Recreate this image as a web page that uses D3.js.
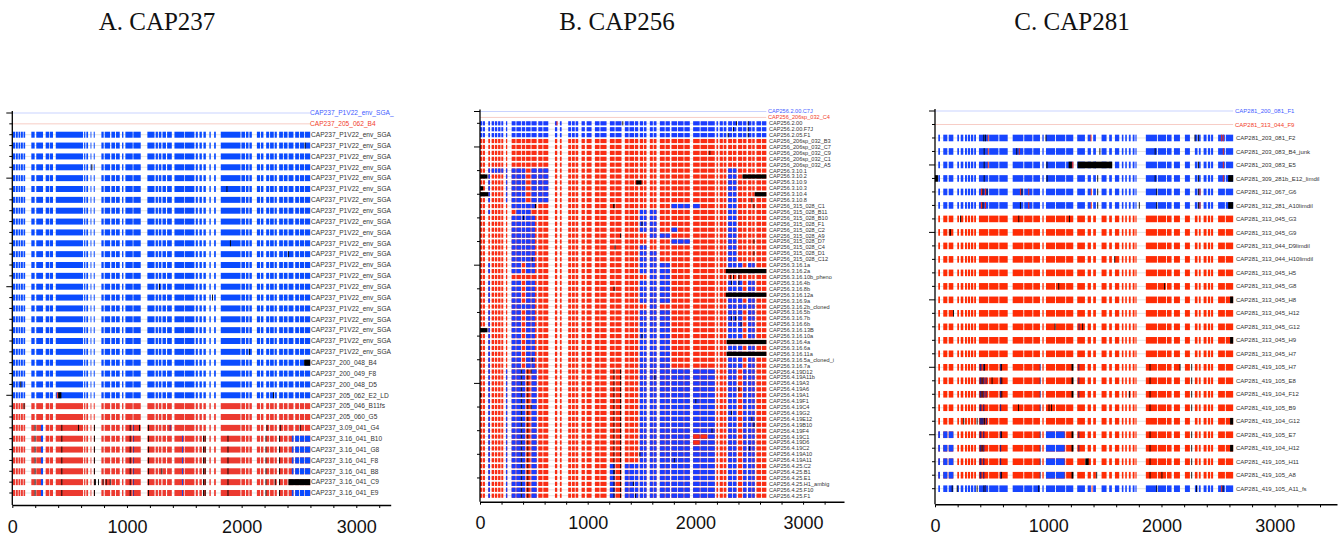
<!DOCTYPE html>
<html><head><meta charset="utf-8">
<script src="https://cdn.jsdelivr.net/npm/d3@7"></script>
<style>body{margin:0;background:#fff}svg{display:block}</style>
</head><body>
<svg id="chart" width="1343" height="540"></svg>
<script>
// ===================== DATA =====================
// ---- Panel A : CAP237 ----
const titleA = "A. CAP237";
const refNamesA = ["CAP237_P1V22_env_SGA_", "CAP237_205_062_B4"];
const namesA = [
  "CAP237_P1V22_env_SGA","CAP237_P1V22_env_SGA","CAP237_P1V22_env_SGA","CAP237_P1V22_env_SGA",
  "CAP237_P1V22_env_SGA","CAP237_P1V22_env_SGA","CAP237_P1V22_env_SGA","CAP237_P1V22_env_SGA",
  "CAP237_P1V22_env_SGA","CAP237_P1V22_env_SGA","CAP237_P1V22_env_SGA","CAP237_P1V22_env_SGA",
  "CAP237_P1V22_env_SGA","CAP237_P1V22_env_SGA","CAP237_P1V22_env_SGA","CAP237_P1V22_env_SGA",
  "CAP237_P1V22_env_SGA","CAP237_P1V22_env_SGA","CAP237_P1V22_env_SGA","CAP237_P1V22_env_SGA",
  "CAP237_P1V22_env_SGA",
  "CAP237_200_048_B4","CAP237_200_049_F8","CAP237_200_048_D5","CAP237_205_062_E2_LD",
  "CAP237_205_046_B11fs","CAP237_205_060_G5","CAP237_3.09_041_G4","CAP237_3.16_041_B10",
  "CAP237_3.16_041_G8","CAP237_3.16_041_F8","CAP237_3.16_041_B8","CAP237_3.16_041_C9",
  "CAP237_3.16_041_E9"
];
const baseA = ["B","B","B","B","B","B","B","B","B","B","B","B","B","B","B","B","B","B","B","B","B",
  "B","B","B","B","R","R","R","R","R","R","R","R","R"];
const blocksA = [
  [6,24],[30,48],[54,70],[76,92],[98,112],[166,195],[209,268],[291,320],[326,355],
  [379,617],[626,637],[646,661],[682,689],[710,719],[777,797],[806,853],[864,896],[904,937],
  [957,969],[986,1050],[1056,1120],[1178,1240],[1250,1270],[1278,1300],[1310,1340],[1350,1391],
  [1414,1500],[1506,1588],[1600,1618],[1632,1653],[1667,1688],[1719,1731],[1760,1775],
  [1818,1990],[1998,2030],[2038,2060],[2068,2089],[2133,2160],[2168,2190],[2214,2240],
  [2248,2280],[2288,2307],[2327,2360],[2368,2400],[2410,2452],[2467,2500],[2508,2545],[2552,2598]
];
const rec316A = [[250,268,"B"],[195,201,"K"],[428,434,"K"],[713,720,"K"],[1024,1031,"K"],[1053,1060,"N"],
  [1184,1191,"K"],[1480,1487,"B"],[1664,1670,"K"],[1678,1684,"K"],[1877,1884,"K"],[2208,2215,"K"],[2327,2334,"K"]];
const marksA = [
  [],[[2550,2558,"K"]],[],[[690,697,"K"]],[],[[1868,1874,"K"]],[],[],[],[],
  [[1898,1904,"K"]],[[2405,2412,"K"]],[],[],[[1280,1287,"K"]],[[1742,1750,"K"]],[],[],[],[],
  [[2064,2071,"K"]],
  [[2545,2598,"K"]],
  [],
  [[70,77,"K"]],
  [[388,400,"R"],[400,428,"K"],[2274,2281,"K"]],
  [[98,106,"K"]],
  [],
  [[250,268,"B"],[195,201,"K"],[428,434,"K"],[573,580,"K"],[713,720,"K"],[1024,1031,"K"],[1053,1060,"N"],
   [1105,1112,"K"],[1184,1191,"K"],[1373,1380,"N"],[2217,2224,"K"],[2333,2340,"K"],[2507,2514,"K"]],
  rec316A.concat([[2438,2598,"B"]]),
  rec316A.concat([[2438,2598,"B"]]),
  rec316A.concat([[2438,2598,"B"]]),
  rec316A.concat([[1300,1306,"K"],[2438,2598,"B"]]),
  rec316A.concat([[722,728,"K"],[748,754,"K"],[788,795,"K"],[815,822,"K"],[850,857,"K"],[2289,2296,"K"],[2408,2598,"K"]]),
  rec316A.concat([[2438,2598,"B"]])
];
const xTicksA = [0,1000,2000,3000];

// ---- Panel B : CAP256 ----
const titleB = "B. CAP256";
const refNamesB = ["CAP256.2.00.C7J", "CAP256_206sp_032_C4"];
const namesB = [
  "CAP256.2.00","CAP256.2.00.F7J","CAP256.2.05.F1","CAP256_206sp_032_B3","CAP256_206sp_032_C7",
  "CAP256_206sp_032_C9","CAP256_206sp_032_C1","CAP256_206sp_032_A5","CAP256.3.10.1","CAP256.3.10.2",
  "CAP256.3.10.9","CAP256.3.10.3","CAP256.3.10.4","CAP256.3.10.8","CAP256_315_028_C1",
  "CAP256_315_028_B11","CAP256_315_028_B10","CAP256_315_028_F1","CAP256_315_028_C2","CAP256_315_028_A9",
  "CAP256_315_028_D7","CAP256_315_028_C4","CAP256_315_028_D1","CAP256_315_028_C12","CAP256.3.16.1a",
  "CAP256.3.16.2a","CAP256.3.16.10b_pheno","CAP256.3.16.4b","CAP256.3.16.8b","CAP256.3.16.12a",
  "CAP256.3.16.9a","CAP256.3.16.2b_cloned","CAP256.3.16.5b","CAP256.3.16.7b","CAP256.3.16.6b",
  "CAP256.3.16.13B","CAP256.3.16.10a","CAP256.3.16.4a","CAP256.3.16.6a","CAP256.3.16.11a",
  "CAP256.3.16.5a_cloned_i","CAP256.3.16.7a","CAP256.4.19D12","CAP256.4.19A11b","CAP256.4.19A3",
  "CAP256.4.19A6","CAP256.4.19A1","CAP256.4.19F1","CAP256.4.19C4","CAP256.4.19G2",
  "CAP256.4.19E12","CAP256.4.19B10","CAP256.4.19F4","CAP256.4.19C1","CAP256.4.19D6",
  "CAP256.4.19C2","CAP256.4.19A10","CAP256.4.19A11","CAP256.4.25.C2","CAP256.4.25.B1",
  "CAP256.4.25.E1","CAP256.4.25.H1_ambig","CAP256.4.25.F10","CAP256.4.25.F1"
];
const baseB = ["B","B","B"].concat(Array(61).fill("R"));
const blocksB = [
  [0,20],[26,46],[77,93],[108,130],[138,160],[168,190],[198,216],[241,253],
  [294,330],[338,380],[388,420],[428,470],[478,526],[541,580],[588,634],[696,717],[742,758],
  [819,845],[853,880],[888,912],[943,974],[990,1036],[1067,1110],[1118,1175],[1206,1250],[1258,1314],
  [1345,1380],[1388,1430],[1438,1469],[1484,1515],[1523,1546],[1577,1605],[1613,1639],
  [1670,1715],[1723,1763],[1778,1830],[1838,1890],[1898,1948],[1979,2040],[2048,2110],[2118,2180],
  [2196,2211],[2226,2255],[2263,2288],[2304,2340],[2348,2381],[2396,2435],[2443,2474],
  [2489,2520],[2528,2551],[2567,2610],[2618,2659]
];
const p310B = [[77,93,"B"],[241,420,"B"],[478,634,"B"],[2304,2381,"B"]];
const p315B = [[294,420,"B"],[428,510,"B"],[1469,1546,"B"],[1577,1639,"B"],[2304,2381,"B"]];
const p316B = [[77,93,"B"],[294,380,"B"],[428,510,"B"],[1469,1546,"B"],[1577,1763,"B"],[2304,2435,"B"],[2489,2551,"B"]];
const p419B = [[77,93,"B"],[241,253,"B"],[294,420,"B"],[478,526,"B"],[1469,1639,"B"],[1670,1948,"B"],[1979,2180,"B"],
  [2304,2381,"B"],[2443,2551,"B"],[380,388,"K"],[440,448,"K"],[1240,1248,"K"],[1300,1306,"K"]];
const p425B = p419B.concat([[1345,1469,"B"],[1206,1250,"B"]]);
const marksB = [
  [[710,720,"R"],[1322,1330,"K"],[2377,2385,"K"],[2486,2494,"K"]],
  [[2350,2358,"K"],[2486,2494,"K"]],
  [[2300,2308,"K"],[2486,2494,"K"]],
  [],[],[[2130,2138,"K"]],[],[],
  p310B.concat([[108,216,"B"]]),
  p310B.concat([[0,70,"K"],[2437,2659,"K"]]),
  p310B.concat([[1450,1500,"K"]]),
  p310B.concat([[0,30,"K"]]),
  p310B.concat([[0,77,"K"],[2551,2659,"K"]]),
  p310B.concat([[2520,2528,"K"]]),
  [[294,510,"B"],[510,520,"K"],[1237,1250,"K"],[1778,2040,"B"],[2304,2381,"B"],[2540,2548,"K"]],
  [[77,93,"B"],[338,470,"B"],[1469,1639,"B"],[2304,2381,"B"]],
  p315B.concat([[400,408,"K"]]),
  p315B.concat([[1500,1508,"K"]]),
  p315B.concat([[1778,1830,"B"]]),
  [[294,510,"B"],[1577,1763,"B"],[2304,2381,"B"],[1300,1308,"K"]],
  [[294,510,"B"],[1778,1948,"B"],[2304,2381,"B"],[2540,2548,"K"]],
  [[294,510,"B"],[1469,1546,"B"],[2304,2381,"B"],[1250,1258,"K"]],
  p315B.concat([[2540,2548,"K"]]),
  p315B.concat([[480,488,"K"]]),
  p316B,
  p316B.concat([[2282,2659,"K"]]),
  [[1577,1763,"B"],[2320,2328,"K"],[2350,2358,"K"],[2400,2408,"K"]],
  p316B.concat([[2330,2338,"K"],[2400,2408,"K"]]),
  p316B.concat([[1240,1250,"K"]]),
  p316B.concat([[2282,2659,"K"]]),
  p316B,
  [[294,510,"B"],[1577,1639,"B"],[2304,2551,"B"]],
  p316B,
  p316B.concat([[2330,2338,"K"],[2370,2378,"K"]]),
  p316B.concat([[2420,2428,"K"]]),
  p316B.concat([[0,70,"K"]]),
  p316B.concat([[1500,1508,"K"]]),
  p316B.concat([[2290,2659,"K"]]),
  p316B,
  p316B.concat([[2290,2659,"K"]]),
  p316B.concat([[480,488,"K"]]),
  p316B,
  p419B.concat([[470,478,"K"]]),
  p419B.concat([[1620,1628,"K"]]),
  p419B,
  p419B.concat([[2400,2408,"K"]]),
  p419B.concat([[0,12,"K"]]),
  p419B.concat([[2000,2008,"K"]]),
  p419B.concat([[470,478,"K"]]),
  p419B.concat([[2330,2338,"K"]]),
  p419B.concat([[2520,2528,"K"]]),
  p419B.concat([[2540,2548,"K"]]),
  p419B.concat([[2150,2158,"K"]]),
  p419B.concat([[1979,2110,"R"]]),
  p419B.concat([[1979,2040,"R"]]),
  p419B.concat([[2500,2508,"K"]]),
  p419B.concat([[1480,1488,"K"]]),
  p419B.concat([[1800,1808,"K"]]),
  p425B,
  p425B.concat([[1240,1248,"K"]]),
  p425B,
  p425B.concat([[1420,1428,"K"]]),
  p425B,
  p425B.concat([[1440,1448,"K"]])
];
const xTicksB = [0,1000,2000,3000];

// ---- Panel C : CAP281 ----
const titleC = "C. CAP281";
const refNamesC = ["CAP281_200_081_F1", "CAP281_313_044_F9"];
const namesC = [
  "CAP281_203_081_F2","CAP281_203_083_B4_junk","CAP281_203_083_E5","CAP281_309_281b_E12_limdil",
  "CAP281_312_067_G6","CAP281_312_281_A10limdil","CAP281_313_045_G3","CAP281_313_045_G9",
  "CAP281_313_044_D9limdil","CAP281_313_044_H10limdil","CAP281_313_045_H5","CAP281_313_045_G8",
  "CAP281_313_045_H8","CAP281_313_045_H12","CAP281_313_045_G12","CAP281_313_045_H9",
  "CAP281_313_045_H7","CAP281_419_105_H7","CAP281_419_105_E8","CAP281_419_104_F12",
  "CAP281_419_105_B9","CAP281_419_104_G12","CAP281_419_105_E7","CAP281_419_104_H12",
  "CAP281_419_105_H11","CAP281_419_105_A8","CAP281_419_105_A11_fs"
];
const baseC = ["B","B","B","B","B","B","R","R","R","R","R","R","R","R","R","R","R",
  "R","R","R","R","R","R","R","R","R","B"];
const blocksC = [
  [29,44],[73,109],[121,162],[197,212],[227,250],[265,282],[290,310],[318,338],[346,362],
  [388,470],[478,560],[568,642],[686,780],[788,860],[868,927],[948,960],
  [980,1060],[1068,1150],[1158,1221],[1256,1324],[1348,1377],[1397,1421],[1471,1515],
  [1538,1562],[1589,1627],[1650,1664],[1680,1694],[1712,1728],[1746,1762],[1770,1780],
  [1862,1960],[1968,2040],[2048,2089],[2110,2163],[2207,2251],[2295,2318],[2330,2346],
  [2372,2398],[2410,2430],[2438,2456],[2500,2560],[2568,2633]
];
const m419C = [[394,410,"N"],[425,436,"N"],[574,584,"N"],[925,932,"N"],[1895,1901,"K"],[2263,2269,"K"]];
const marksC = [
  [[427,433,"K"],[441,447,"K"],[466,474,"R"],[976,984,"K"],[1374,1382,"R"],[2292,2300,"K"],[2322,2328,"K"],[2527,2535,"R"],[2542,2550,"R"]],
  [[430,436,"K"],[466,474,"R"],[718,724,"K"],[740,748,"R"],[1452,1460,"K"],[1940,1946,"K"],[2542,2550,"R"]],
  [[430,436,"K"],[466,474,"R"],[985,991,"K"],[1180,1209,"K"],[1212,1222,"R"],[1259,1565,"K"],[1412,1416,"B"],[2322,2328,"K"],[2542,2550,"R"]],
  [[0,26,"K"],[430,436,"K"],[986,992,"K"],[1433,1440,"K"],[1940,1946,"K"],[2322,2328,"K"],[2542,2550,"R"],[2589,2633,"K"]],
  [[405,418,"R"],[420,426,"K"],[440,450,"R"],[456,462,"K"],[750,758,"R"],[764,770,"K"],[824,832,"R"],[1376,1384,"R"],[1433,1440,"K"],[1954,1960,"K"],[2322,2328,"K"],[2336,2344,"R"]],
  [[405,418,"R"],[420,426,"K"],[440,450,"R"],[750,758,"K"],[824,832,"R"],[1376,1384,"R"],[1433,1440,"K"],[1800,1806,"K"],[1954,1960,"K"],[2322,2328,"K"],[2336,2344,"R"],[2589,2633,"K"]],
  [[222,228,"K"],[736,742,"K"],[1183,1189,"K"]],
  [[128,140,"K"]],
  [],
  [[1583,1590,"K"]],
  [],
  [[1089,1095,"K"],[2022,2028,"K"]],
  [[2606,2633,"K"]],
  [[160,168,"K"]],
  [[1057,1063,"K"],[1268,1276,"N"],[1300,1306,"K"]],
  [[2606,2633,"K"]],
  [],
  m419C.concat([[432,438,"K"],[584,590,"K"],[1206,1222,"K"],[1266,1274,"N"],[2160,2166,"K"]]),
  m419C.concat([[412,418,"K"],[446,456,"N"],[500,506,"K"],[586,592,"K"],[1206,1222,"K"],[1266,1274,"N"]]),
  m419C.concat([[412,418,"K"],[446,456,"N"],[586,592,"K"],[1206,1222,"K"],[1266,1274,"N"],[1712,1720,"K"]]),
  m419C.concat([[733,739,"K"],[1003,1009,"K"],[1025,1031,"K"]]),
  [[250,256,"K"],[368,374,"K"],[394,430,"N"],[432,440,"K"],[448,459,"N"],[2606,2633,"K"]],
  m419C.concat([[0,165,"B"],[584,590,"K"],[974,1145,"B"],[1206,1222,"K"],[1266,1274,"N"]]),
  m419C.concat([[0,165,"B"],[412,418,"K"],[974,1145,"B"],[1206,1222,"K"],[1266,1274,"N"],[2606,2633,"K"]]),
  m419C.concat([[0,165,"B"],[974,1145,"B"],[1327,1357,"K"]]),
  m419C.concat([[0,165,"B"],[584,590,"K"],[974,1145,"B"],[1206,1222,"K"],[1424,1430,"K"],[2000,2006,"K"]]),
  [[148,154,"K"],[192,198,"K"],[368,374,"K"],[428,434,"K"],[440,450,"N"],[912,918,"K"],[1383,1390,"R"],[1954,1960,"K"],[2306,2314,"K"],[2527,2535,"R"],[2540,2546,"K"]]
];
const xTicksC = [0,1000,2000,3000];

// ===================== DRAWING =====================
const svg = d3.select("#chart");

function drawPanel(cfg) {
  const nRows = cfg.names.length + 2;
  const x = d3.scaleLinear().domain([0, cfg.xMax]).range([cfg.x0, cfg.x1]);
  const y = d3.scaleLinear().domain([0, nRows - 1]).range([cfg.yTop, cfg.yBot]);
  const col = cfg.colors;
  const g = svg.append("g");
  const xEnd = x(d3.max(cfg.blocks, b => b[1]));

  g.append("text").attr("x", cfg.titleX).attr("y", 30).attr("text-anchor", "middle")
    .attr("font-family", "Liberation Serif, DejaVu Serif, serif").attr("font-size", 25)
    .attr("fill", "#111").text(cfg.title);

  cfg.refNames.forEach((nm, i) => {
    g.append("line").attr("x1", cfg.x0).attr("x2", xEnd).attr("y1", y(i)).attr("y2", y(i))
      .attr("stroke", i === 0 ? "#c9d3ff" : "#f7cdc6").attr("stroke-width", 1);
    g.append("text").attr("x", cfg.labelX - 1).attr("y", y(i)).attr("dy", "0.35em")
      .attr("font-family", "Liberation Sans, Arial, sans-serif").attr("font-size", cfg.labelSize)
      .attr("fill", i === 0 ? "#3f5cff" : "#f2402a").text(nm);
  });

  const bh = cfg.barH;
  cfg.names.forEach((nm, r) => {
    const idx = r + 2, cy = y(idx);
    const rg = g.append("g");
    rg.append("line").attr("x1", cfg.x0).attr("x2", xEnd).attr("y1", cy).attr("y2", cy)
      .attr("stroke", "#e3e3e3").attr("stroke-width", 1);
    const rects = [];
    cfg.blocks.forEach(b => rects.push([b[0], b[1], cfg.base[r]]));
    const marks = cfg.marks[r] || [];
    marks.filter(m => m[2] !== "K").forEach(m => {
      if (m[1] - m[0] <= 30) rects.push(m);
      else cfg.blocks.forEach(b => {
        const s = Math.max(m[0], b[0]), e = Math.min(m[1], b[1]);
        if (e > s) rects.push([s, e, m[2]]);
      });
    });
    marks.filter(m => m[2] === "K").forEach(m => rects.push(m));
    rg.selectAll("rect").data(rects).join("rect")
      .attr("x", d => x(d[0]))
      .attr("width", d => Math.max(x(d[1]) - x(d[0]), 0.9))
      .attr("y", cy - bh / 2).attr("height", bh)
      .attr("fill", d => col[d[2]]);
    g.append("text").attr("x", cfg.labelX).attr("y", cy).attr("dy", "0.35em")
      .attr("font-family", "Liberation Sans, Arial, sans-serif").attr("font-size", cfg.labelSize)
      .attr("fill", "#333").text(nm);
  });

  g.append("line").attr("x1", cfg.x0).attr("x2", cfg.x0).attr("y1", cfg.yTop - 2).attr("y2", cfg.axisY)
    .attr("stroke", "#000").attr("stroke-width", 1.3);
  const yt = d3.range(nRows).filter(i => ((nRows - i) % cfg.yStep === 0) || i === 0);
  g.selectAll(".yt").data(yt).join("line")
    .attr("x1", cfg.x0).attr("y1", d => y(d)).attr("y2", d => y(d))
    .attr("x2", d => cfg.x0 - (((nRows - d) % cfg.yMajor === 0 || d === 0) ? 6 : 3))
    .attr("stroke", "#000").attr("stroke-width", 1);

  const minor = d3.range(0, cfg.xMax + 1, 200);
  const ax = d3.axisBottom(x).tickValues(minor)
    .tickFormat(d => cfg.xTicks.includes(d) ? d : "")
    .tickSize(3).tickSizeOuter(0).tickPadding(12);
  const axg = g.append("g").attr("transform", `translate(0,${cfg.axisY})`).call(ax);
  axg.select(".domain").attr("stroke", "#000").attr("stroke-width", 1.5);
  axg.selectAll(".tick line").attr("stroke", "#000");
  axg.selectAll("text").attr("font-family", "Liberation Sans, Arial, sans-serif")
    .attr("font-size", 18).attr("fill", "#111");
}

drawPanel({
  title: titleA, titleX: 157, names: namesA, refNames: refNamesA, base: baseA, marks: marksA,
  blocks: blocksA, xTicks: xTicksA, xMax: 3300, x0: 12.3, x1: 390.7, yTop: 113, yBot: 493,
  axisY: 505, labelX: 311, labelSize: 6.6, barH: 6, yStep: 1, yMajor: 10,
  colors: {B: "#0a4bff", R: "#ec3a30", K: "#000", N: "#3a2a8c"}
});
drawPanel({
  title: titleB, titleX: 617, names: namesB, refNames: refNamesB, base: baseB, marks: marksB,
  blocks: blocksB, xTicks: xTicksB, xMax: 3380, x0: 480, x1: 844, yTop: 111.5, yBot: 495.7,
  axisY: 501.7, labelX: 769, labelSize: 5.6, barH: 4.2, yStep: 4, yMajor: 20,
  colors: {B: "#1a3cff", R: "#fa2d14", K: "#000", N: "#2b1f7a"}
});
drawPanel({
  title: titleC, titleX: 1072, names: namesC, refNames: refNamesC, base: baseC, marks: marksC,
  blocks: blocksC, xTicks: xTicksC, xMax: 3550, x0: 935, x1: 1337, yTop: 111, yBot: 488.7,
  axisY: 504.3, labelX: 1236, labelSize: 6, barH: 6.6, yStep: 1, yMajor: 5,
  colors: {B: "#1745ff", R: "#ff2c05", K: "#000", N: "#2b1f7a"}
});
</script>
</body></html>
